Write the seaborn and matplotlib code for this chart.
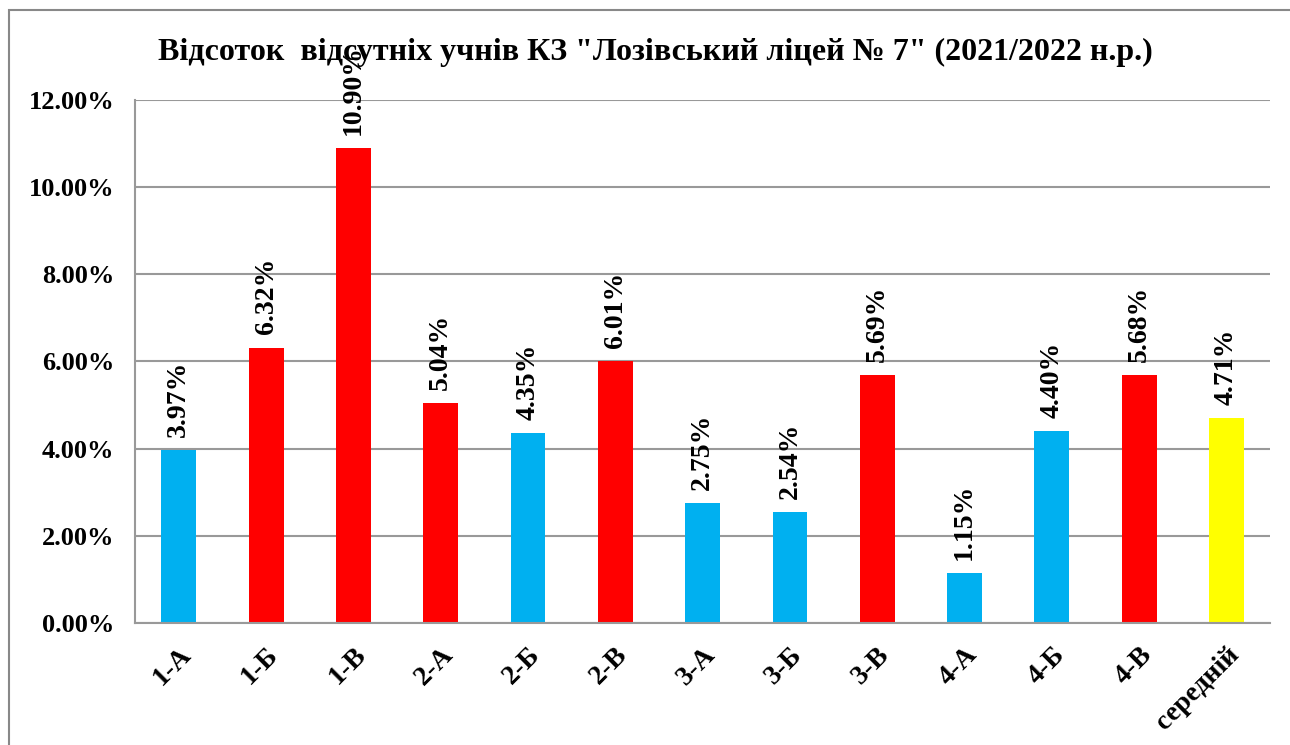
import matplotlib
matplotlib.use("Agg")
import matplotlib.pyplot as plt
import seaborn as sns
import pandas as pd
from matplotlib.patches import Rectangle
from matplotlib.ticker import FuncFormatter, MultipleLocator

categories = ["1-А", "1-Б", "1-В", "2-А", "2-Б", "2-В", "3-А", "3-Б", "3-В", "4-А", "4-Б", "4-В", "середній"]
values = [3.97, 6.32, 10.90, 5.04, 4.35, 6.01, 2.75, 2.54, 5.69, 1.15, 4.40, 5.68, 4.71]
colors = ["#00B0F0", "#FF0000", "#FF0000", "#FF0000", "#00B0F0", "#FF0000", "#00B0F0",
          "#00B0F0", "#FF0000", "#00B0F0", "#00B0F0", "#FF0000", "#FFFF00"]
title = "Відсоток  відсутніх учнів КЗ \"Лозівський ліцей № 7\" (2021/2022 н.р.)"

sns.set_style("white")
plt.rcParams['font.family'] = ['Liberation Serif', 'DejaVu Serif']
plt.rcParams['font.weight'] = 'bold'
plt.rcParams['text.color'] = 'black'
plt.rcParams['xtick.labelcolor'] = 'black'
plt.rcParams['ytick.labelcolor'] = 'black'

df = pd.DataFrame({"cat": categories, "val": values})

fig = plt.figure(figsize=(12.9, 7.45), dpi=100)
ax = fig.add_axes([0.1047, 0.1638, 0.88, 0.7020])

sns.barplot(data=df, x="cat", y="val", hue="cat", palette=colors, legend=False,
            width=0.4, saturation=1, linewidth=0, ax=ax)

ax.set_ylim(0, 12)
ax.set_xlim(-0.5, len(categories) - 0.5)
ax.yaxis.set_major_locator(MultipleLocator(2))
ax.yaxis.set_major_formatter(FuncFormatter(lambda v, p: f"{v:.2f}%"))
ax.grid(axis="y", color="#999999", linewidth=1.5)
ax.set_axisbelow(True)
for s in ["top", "right"]:
    ax.spines[s].set_visible(False)
for s in ["left", "bottom"]:
    ax.spines[s].set_color("#999999")
    ax.spines[s].set_linewidth(1.5)

ax.set_xlabel("")
ax.set_ylabel("")
ax.set_xticks(range(len(categories)))
ax.set_xticklabels(categories, rotation=45, ha="right", rotation_mode="anchor",
                   fontsize=20, fontweight="bold", color="black")
ax.tick_params(axis="x", length=0, pad=14)
ax.set_xticks([i - 0.5 for i in range(len(categories) + 1)], minor=True)
ax.tick_params(axis="x", which="minor", length=7, width=1.5, color="#999999", direction="out")
ax.tick_params(axis="y", length=7, width=1.5, color="#999999", direction="out",
               labelsize=19, pad=8, labelcolor="black")
for lab in ax.get_yticklabels():
    lab.set_fontweight("bold")

for i, v in enumerate(values):
    ax.text(i, v + 0.3, f"{v:.2f}%", rotation=90, ha="center", va="bottom",
            fontsize=20, fontweight="bold", color="black")

fig.text(0.508, 0.930, title, ha="center", va="center", fontsize=23, fontweight="bold",
         color="black")

frame = Rectangle((0.007, -0.1), 1.2, 0.1 + 0.9866, transform=fig.transFigure,
                  fill=False, edgecolor="#888888", linewidth=1.5)
fig.patches.append(frame)

fig.savefig("out.png", dpi=100)
